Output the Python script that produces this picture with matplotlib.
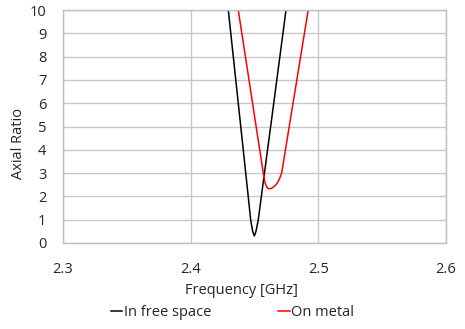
import matplotlib
matplotlib.use('Agg')
from matplotlib import pyplot as plt

# frequency [GHz] and axial ratio values
free_freq = [2.4274, 2.4295, 2.4373, 2.4451, 2.4470, 2.4486, 2.4499, 2.4512, 2.4530, 2.4554,
             2.4651, 2.4747, 2.4771]
free_ar = [11.0, 10.0, 6.0, 2.0, 1.0, 0.5, 0.3, 0.5, 1.0, 2.0,
           6.0, 10.0, 11.0]

metal_freq = [2.4345, 2.4373, 2.4569, 2.4582, 2.4596, 2.4610, 2.4624, 2.4638, 2.4660, 2.4682,
              2.4697, 2.4713, 2.4921, 2.4951]
metal_ar = [11.0, 10.0, 3.0, 2.6, 2.4, 2.33, 2.33, 2.36, 2.45, 2.6,
            2.77, 3.0, 10.0, 11.0]

plt.rcParams['font.family'] = ['Open Sans', 'DejaVu Sans']

fig = plt.figure(figsize=(4.65, 3.29), dpi=100)
ax = fig.add_axes([0.1355, 0.2614, 0.8235, 0.7082])

ax.plot(free_freq, free_ar, color='black', lw=1.1, label='In free space')
ax.plot(metal_freq, metal_ar, color='red', lw=1.1, label='On metal')

ax.set_xlim(2.3, 2.6)
ax.set_ylim(0, 10)
ax.set_xticks([2.3, 2.4, 2.5, 2.6])
ax.set_xticklabels(['2.3', '2.4', '2.5', '2.6'])
ax.set_yticks(range(0, 11))
ax.grid(True, color='#C8C8C8', lw=1.0)
ax.set_axisbelow(True)
for s in ax.spines.values():
    s.set_color('#BFBFBF')
    s.set_linewidth(1.0)
ax.tick_params(length=0, labelsize=10.5, colors='#262626')
ax.tick_params(axis='y', pad=12)
ax.tick_params(axis='x', pad=14)

ax.set_xlabel('Frequency [GHz]', fontsize=10.5, color='#262626')
ax.set_ylabel('Axial Ratio', fontsize=10.5, color='#262626')
ax.xaxis.set_label_coords(0.467, -0.172)
ax.yaxis.set_label_coords(-0.097, 0.425)

fig.legend(loc='lower center', bbox_to_anchor=(0.5, -0.012), ncol=2, frameon=False,
           fontsize=10.5, handlelength=0.8, handletextpad=0.1, columnspacing=4.6,
           labelcolor='#262626')

plt.savefig('out.png', dpi=100)
